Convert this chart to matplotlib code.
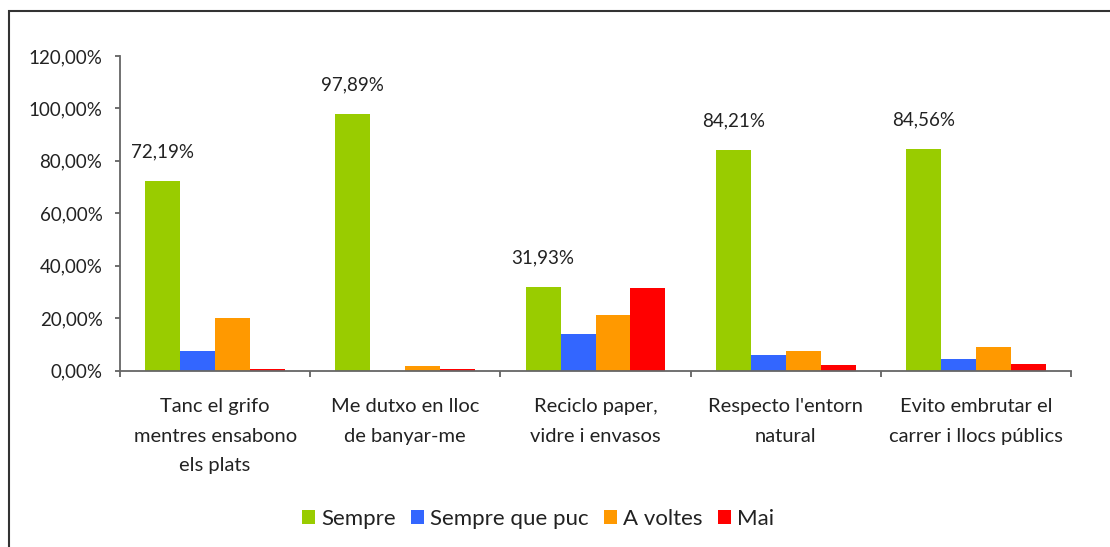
import matplotlib
matplotlib.use("Agg")
import matplotlib.pyplot as plt
from matplotlib.patches import Rectangle, Patch
import numpy as np

categories = ["Tanc el grifo\nmentres ensabono\nels plats",
              "Me dutxo en lloc\nde banyar-me",
              "Reciclo paper,\nvidre i envasos",
              "Respecto l'entorn\nnatural",
              "Evito embrutar el\ncarrer i llocs públics"]
series_names = ["Sempre", "Sempre que puc", "A voltes", "Mai"]
sempre = [72.19, 97.89, 31.93, 84.21, 84.56]
sempre_que_puc = [7.6, 0.0, 14.1, 6.1, 4.2]
a_voltes = [19.9, 1.9, 21.0, 7.6, 8.8]
mai = [0.5, 0.5, 31.4, 2.0, 2.4]
colors = ["#99CC00", "#3366FF", "#FF9900", "#FF0000"]
yticks = [0, 20, 40, 60, 80, 100, 120]

plt.rcParams['font.family'] = ['Lato', 'DejaVu Sans']
fig = plt.figure(figsize=(11.1, 5.47), dpi=100)
ax = fig.add_axes([120/1110, 1-370.5/547, (1071-120)/1110, (370.5-56)/547])

x = np.arange(len(categories))
w = 0.184
data = [sempre, sempre_que_puc, a_voltes, mai]
for i, (vals, c) in enumerate(zip(data, colors)):
    ax.bar(x + (i - 1.5) * w, vals, width=w, color=c, label=series_names[i], zorder=2)
    if i == 0:
        for xi, v in zip(x + (i - 1.5) * w, vals):
            ax.annotate(f"{v:.2f}%".replace('.', ','), (xi, v), xytext=(0, 21),
                        textcoords='offset points', ha='center', va='center',
                        fontsize=13.5, color='#222222')

ax.set_xlim(-0.5, len(categories) - 0.5)
ax.set_ylim(0, 120)
ax.set_yticks(yticks)
ax.set_yticklabels([f"{v:.2f}%".replace('.', ',') for v in yticks], fontsize=13.5, color='#222222')
ax.set_xticks(np.arange(len(categories) + 1) - 0.5)
ax.set_xticklabels([])
ax.set_xticks(x, minor=True)
ax.set_xticklabels(categories, minor=True, fontsize=14.5, color='#222222', linespacing=1.88)
ax.tick_params(axis='x', which='minor', length=0, pad=20)
ax.tick_params(axis='x', which='major', length=4.5, width=1.2, color='#555555', direction='out')
ax.tick_params(axis='y', length=3.6, width=1.2, color='#555555', pad=9)
for s in ['top', 'right']:
    ax.spines[s].set_visible(False)
for s in ['left', 'bottom']:
    ax.spines[s].set_color('#666666')
    ax.spines[s].set_linewidth(1.3)

handles = [Patch(facecolor=c, label=n) for c, n in zip(colors, series_names)]
fig.legend(handles=handles, loc='center', bbox_to_anchor=(538/1110, 1-519/547), ncol=4,
           frameon=False, fontsize=16, handlelength=0.6, handleheight=0.6,
           handletextpad=0.25, columnspacing=0.7, labelcolor='#222222')

fig.patches.append(Rectangle((8.5/1110, -0.05), 1.2, 1.05 - 11/547, transform=fig.transFigure,
                             fill=False, edgecolor='#333333', linewidth=1.5))
fig.savefig("out.png", dpi=100)
